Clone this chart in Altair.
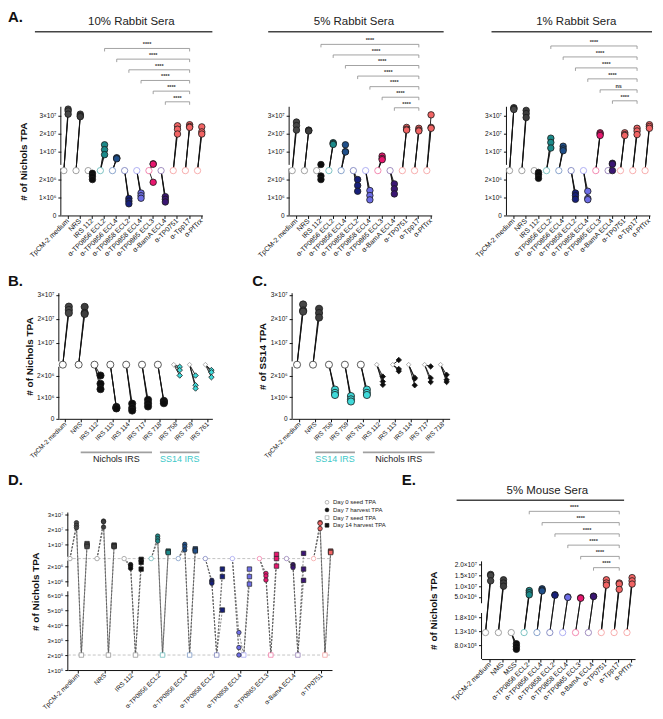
import altair as alt
import pandas as pd

FONT = "Liberation Sans"

# ---------------- Panel A : rabbit sera ----------------
A_CATS = ["TpCM-2 medium", "NRS", "IRS 112", "α-TP0856 ECL2", "α-TP0856 ECL4",
          "α-TP0858 ECL2", "α-TP0858 ECL4", "α-TP0865 ECL3", "α-BamA ECL4",
          "α-TP0751", "α-Tpp17", "α-PfTrx"]
A_SEED = 2.5e6
A10_HARVEST = [[3.37e7, 3.27e7, 3.09e7], [3.09e7, 3.0e7, 2.95e7], [2.35e6, 2.19e6, 2.0e6],
               [1.38e7, 1.11e7, 8.3e6], [6.6e6, 6.2e6, 6.0e6], [9.5e5, 8.0e5, 6.5e5],
               [1.25e6, 1.1e6, 9.6e5], [3.2e6, 3.0e6, 1.85e6], [1.05e6, 9.0e5, 7.5e5],
               [2.44e7, 2.25e7, 1.98e7], [2.5e7, 2.4e7, 2.35e7], [2.38e7, 2.1e7, 1.98e7]]
A5_HARVEST = [[2.65e7, 2.45e7, 2.2e7], [2.2e7, 2.18e7, 2.15e7], [2.8e6, 2.2e6, 2.0e6],
              [1.5e7, 1.45e7, 1.4e7], [1.38e7, 1.0e7, 9.8e6], [2.0e6, 1.67e6, 1.35e6],
              [1.39e6, 1.11e6, 8.7e5], [7.5e6, 6.2e6, 5.5e6], [1.76e6, 1.48e6, 1.2e6],
              [2.35e7, 2.25e7, 2.2e7], [2.3e7, 2.2e7, 2.15e7], [3.05e7, 2.35e7, 2.3e7]]
A1_HARVEST = [[3.45e7, 3.4e7, 3.35e7], [3.3e7, 3.12e7, 2.9e7], [2.4e6, 2.27e6, 2.07e6],
              [1.75e7, 1.51e7, 1.2e7], [1.3e7, 1.15e7, 1.05e7], [1.25e6, 1.1e6, 9.0e5],
              [1.35e6, 9.5e5, 8.8e5], [2.05e7, 1.98e7, 1.9e7], [3.5e6, 3.0e6, 2.5e6],
              [2.05e7, 1.95e7, 1.9e7], [2.3e7, 2.15e7, 1.95e7], [2.5e7, 2.4e7, 2.3e7]]
A10_BR_START = [3, 4, 5, 6, 7, 8]
A10_BR_LABEL = ["****", "****", "****", "****", "****", "****"]
A5_BR_START = [2, 3, 4, 5, 6, 7, 8]
A5_BR_LABEL = ["****", "****", "****", "****", "****", "****", "****"]
A1_BR_START = [3, 4, 5, 6, 7, 8]
A1_BR_LABEL = ["****", "****", "****", "****", "ns", "****"]
A_BR_END = 10
A_TITLES = ["10% Rabbit Sera", "5% Rabbit Sera", "1% Rabbit Sera"]
A_YTICKS = [0, 1e6, 2e6, 1e7, 2e7, 3e7]
A_YLABELS = ["0", "1×10⁶", "2×10⁶", "1×10⁷", "2×10⁷", "3×10⁷"]

# ---------------- Panel B / C : IRS ----------------
B_CATS = ["TpCM-2 medium", "NRS", "IRS 112", "IRS 113", "IRS 114", "IRS 717", "IRS 718",
          "IRS 758", "IRS 759", "IRS 761"]
B_SEED = 2.5e6
B_HARVEST = [[2.51e7, 2.37e7, 2.24e7], [2.5e7, 2.25e7, 2.2e7], [2.0e6, 1.62e6, 1.37e6],
             [5.5e5, 5.0e5, 4.8e5], [7.0e5, 5.0e5, 3.8e5], [8.8e5, 7.2e5, 5.7e5],
             [8.3e5, 7.8e5, 7.2e5], [2.4e6, 2.25e6, 2.0e6], [2.0e6, 1.55e6, 1.4e6],
             [2.25e6, 2.15e6, 1.92e6]]
B_GROUPS = ["Nichols IRS", "SS14 IRS"]
B_GROUP_FIRST = [2, 7]
B_GROUP_LAST = [6, 9]

C_CATS = ["TpCM-2 medium", "NRS", "IRS 758", "IRS 759", "IRS 761", "IRS 112", "IRS 113",
          "IRS 114", "IRS 717", "IRS 718"]
C_SEED = 2.5e6
C_HARVEST = [[2.6e7, 2.35e7, 2.3e7], [2.42e7, 2.24e7, 2.05e7], [1.35e6, 1.2e6, 1.1e6],
             [1.05e6, 9.0e5, 8.0e5], [1.35e6, 1.2e6, 1.1e6], [1.95e6, 1.72e6, 1.57e6],
             [2.7e6, 2.3e6, 2.2e6], [1.9e6, 1.85e6, 1.55e6], [2.42e6, 1.88e6, 1.7e6],
             [2.03e6, 1.8e6, 1.7e6]]
C_GROUPS = ["SS14 IRS", "Nichols IRS"]
C_GROUP_FIRST = [2, 5]
C_GROUP_LAST = [4, 9]

# ---------------- Panel D : two passages ----------------
D_CATS = ["TpCM-2 medium", "NRS", "IRS 112", "α-TP0856 ECL2", "α-TP0856 ECL4",
          "α-TP0858 ECL2", "α-TP0858 ECL4", "α-TP0865 ECL3", "α-BamA ECL4", "α-TP0751"]
D_SEED0 = 2.5e6
D_SEED7 = 2e5
D_H7 = [[2.44e7, 2.26e7, 2.11e7], [2.55e7, 2.5e7, 2.15e7], [2.1e6, 2.0e6, 1.85e6],
        [1.55e7, 1.38e7, 1.22e7], [1.0e7, 8.4e6, 6.2e6], [1.05e6, 9.5e5, 8.5e5],
        [3.5e5, 2.5e5, 2.0e5], [1.51e6, 1.34e6, 1.07e6], [2.1e6, 2.0e6, 1.9e6],
        [2.45e7, 2.4e7, 2.05e7]]
D_H14 = [[1.05e7, 9.5e6, 8.5e6], [9.5e6, 9.0e6, 8.5e6], [2.45e6, 2.25e6, 1.8e6],
         [5.5e6, 5.0e6, 4.5e6], [7.0e6, 6.2e6, 5.6e6], [1.8e6, 1.3e6, 5.0e5],
         [1.8e6, 1.3e6, 8.0e5], [3.3e6, 2.5e6, 2.0e6], [4.0e6, 1.8e6, 1.05e6],
         [5.5e6, 5.0e6, 4.5e6]]
D_LEGEND = ["Day 0 seed TPA", "Day 7 harvest TPA", "Day 7 seed TPA", "Day 14 harvest TPA"]
D_YTICKS = [1e5, 2e5, 3e5, 4e5, 5e5, 6e5, 1e6, 2e6, 1e7, 2e7, 3e7]
D_YLABELS = ["1×10⁵", "2×10⁵", "3×10⁵", "4×10⁵", "5×10⁵", "6×10⁵", "1×10⁶", "2×10⁶",
             "1×10⁷", "2×10⁷", "3×10⁷"]

# ---------------- Panel E : mouse sera ----------------
E_CATS = ["TpCM-2 medium", "NMS", "MSS", "α-TP0856 ECL2", "α-TP0856 ECL4", "α-TP0858 ECL2",
          "α-TP0858 ECL4", "α-TP0865 ECL3", "α-BamA ECL4", "α-TP0751", "α-Tpp17", "α-PfTrx"]
E_SEED = 1.25e6
E_HARVEST = [[1.55e7, 1.5e7, 1.25e7], [1.3e7, 1.15e7, 1.0e7], [8.5e5, 7.5e5, 6.5e5],
             [8.0e6, 7.0e6, 6.0e6], [8.8e6, 8.2e6, 7.8e6], [6.0e6, 5.8e6],
             [5.0e6, 4.8e6], [4.6e6, 4.4e6], [5.4e6, 5.2e6],
             [1.3e7, 1.15e7, 1.05e7], [1.15e7, 1.1e7, 8.5e6], [1.4e7, 1.25e7, 1.1e7]]
E_BR_START = [3, 4, 5, 6, 7, 8]
E_BR_LABEL = ["****", "****", "****", "****", "****", "****"]
E_BR_END = 10
E_TITLE = "5% Mouse Sera"
E_YTICKS = [8e5, 1.3e6, 1.8e6, 5e6, 1e7, 1.5e7, 2e7]
E_YLABELS = ["8.0×10⁵", "1.3×10⁶", "1.8×10⁶", "5.0×10⁶", "1.0×10⁷", "1.5×10⁷", "2.0×10⁷"]

# ---------------- styles ----------------
RAB_COLORS = ["#474747", "#3d3d3d", "#0d0d0d", "#1b8a8a", "#1f4f8a", "#17207a", "#6e6ee6",
              "#e8176f", "#3b1673", "#f26464", "#f26464", "#f26464"]
RAB_SEED = ["#8a8a8a", "#8a8a8a", "#8a8a8a", "#5fb5b5", "#6f8fc0", "#6f76b8", "#9d9df0",
            "#f06fa0", "#8a72b0", "#f59a9a", "#f59a9a", "#f59a9a"]
CYAN = "#3fd9d9"
B_COLORS = ["#474747", "#3d3d3d"] + ["#0d0d0d"] * 5 + [CYAN] * 3
B_SEEDC = ["#333333"] * 7 + ["#999999"] * 3
B_SSHAPE = ["circle"] * 7 + ["diamond"] * 3
B_HSHAPE = ["circle"] * 7 + ["diamond"] * 3
C_COLORS = ["#474747", "#3d3d3d"] + [CYAN] * 3 + ["#0d0d0d"] * 5
C_SEEDC = ["#333333"] * 5 + ["#999999"] * 5
C_SSHAPE = ["circle"] * 5 + ["diamond"] * 5
C_HSHAPE = ["circle"] * 5 + ["diamond"] * 5
GROUP_COLORS = {"Nichols IRS": "#222222", "SS14 IRS": "#3cc8c8"}


# ---------------- broken-axis display transforms ----------------
def map_a(v):
    return v / 1e6 if v <= 2.6e6 else 2.56 + v / 1e7


def map_bc(v):
    return v / 1e6 if v <= 2.6e6 else 2.42 + 1.1 * v / 1e7


def map_d(v):
    if v <= 6.5e5:
        return v / 1e5
    if v <= 2.6e6:
        return 5.93 + v / 1e6
    return 8.38 + v / 1e7


def map_e(v):
    return (v - 8e5) / 5e5 + 1 if v <= 2e6 else 4.45 + (v - 5e6) / 5e6 * 0.77


def px2d(px, dom, rng):
    return dom[0] + (rng[0] - px) / (rng[0] - rng[1]) * (dom[1] - dom[0])


def num_label_expr(vals, labels):
    expr = "''"
    for v, l in zip(vals, labels):
        expr = f"abs(datum.value - ({v!r})) < 1e-6 ? '{l}' : ({expr})"
    return expr


def idx_label_expr(labels):
    arr = ",".join("'" + s + "'" for s in labels)
    return f"[{arr}][datum.value]"


def x_axis(labels, offset, fs=7):
    kw = dict(values=list(range(len(labels))), labelExpr=idx_label_expr(labels),
              title=None, labelAngle=315, labelAlign="right", labelBaseline="middle",
              labelFontSize=fs, labelFont=FONT, labelColor="#111", labelOverlap=False,
              labelPadding=1, grid=False, domainColor="#111", tickColor="#111",
              tickSize=3, labelFlush=False)
    if offset:
        kw["offset"] = offset
    return alt.Axis(**kw)


def y_axis(fmap, ticks, labels, title, offset, fs=6.5, tpad=4):
    vals = [fmap(t) for t in ticks]
    kw = dict(values=vals, labelExpr=num_label_expr(vals, labels), title=title,
              labelFontSize=fs, labelFont=FONT, labelColor="#111", labelOverlap=False,
              labelPadding=2, grid=False, domain=False, tickColor="#111", tickSize=3,
              titleFont=FONT, titleFontSize=10, titleFontWeight="bold", titlePadding=tpad,
              titleColor="#111", labelFlush=False)
    if offset:
        kw["offset"] = offset
    return alt.Axis(**kw)


def txt(t, x, y, size, weight="normal", align="left", color="#111"):
    return alt.Chart(pd.DataFrame({"t": [t]})).mark_text(
        align=align, baseline="middle", fontSize=size, fontWeight=weight, font=FONT,
        color=color).encode(x=alt.value(x), y=alt.value(y), text="t:N")


def hline(x0, x1, y, color="#444", w=1.4):
    return alt.Chart(pd.DataFrame({"t": [0]})).mark_rule(color=color, strokeWidth=w).encode(
        x=alt.value(x0), x2=alt.value(x1), y=alt.value(y))


def scales(G, xdom, ydom):
    xs = alt.Scale(domain=xdom, range=[G["L"], G["L"] + G["w"]], nice=False, zero=False)
    ys = alt.Scale(domain=ydom, range=[G["T"] + G["h"], G["T"]], nice=False, zero=False)
    return xs, ys


def axis_segments(base, G, segs):
    sdf_rows = [dict(kind="ax", d=a, d2=b) for a, b in segs]
    return sdf_rows


def pair_panel(G, cats, harvest, seed, fmap, ydom, xdom, yticks, ylabels,
               colors, seedc, sshape, hshape, seed_dx, harv_dx, ytitle, ssz, hsz, segs,
               dsz_s=22, dsz_h=30, brackets=None, tpad=4, extra=(), groups=None, xfs=7):
    yr = [G["T"] + G["h"], G["T"]]
    rows = [dict(kind="ax", d=a, d2=b) for a, b in segs]
    for i, c in enumerate(cats):
        sd = fmap(seed)
        rows.append(dict(kind="pt", x=i + seed_dx, d=sd, fill="white", stroke=seedc[i],
                         shape=sshape[i], sz=ssz if sshape[i] == "circle" else dsz_s))
        for r, v in enumerate(harvest[i]):
            hd = fmap(v)
            k = f"{i}_{r}"
            rows.append(dict(kind="line", x=i + seed_dx, d=sd, key=k, o=0))
            rows.append(dict(kind="line", x=i + harv_dx, d=hd, key=k, o=1))
    for i, c in enumerate(cats):
        for r, v in enumerate(harvest[i]):
            rows.append(dict(kind="pt", x=i + harv_dx, d=fmap(v), fill=colors[i],
                             stroke="#1a1a1a", shape=hshape[i],
                             sz=hsz if hshape[i] == "circle" else dsz_h))
    if brackets:
        starts, end, blabels, bottom_px, step = brackets
        n = len(starts)
        for j, s in enumerate(starts):
            px = bottom_px - (n - 1 - j) * step
            d = px2d(px, ydom, yr)
            d2 = px2d(px + 3, ydom, yr)
            dt = px2d(px - 1.2, ydom, yr)
            x0, x1 = s + harv_dx, end + harv_dx
            rows.append(dict(kind="brh", x=x0, x2=x1, d=d))
            rows.append(dict(kind="brv", x=x0, d=d, d2=d2))
            rows.append(dict(kind="brv", x=x1, d=d, d2=d2))
            rows.append(dict(kind="brt", x=(x0 + x1) / 2, d=dt, lab=blabels[j]))
    df = pd.DataFrame(rows)
    xs, ys = scales(G, xdom, ydom)
    xax = x_axis(cats, -(G["H"] - G["T"] - G["h"]), fs=xfs)
    X = alt.X("x:Q", scale=xs, axis=xax)
    Y = alt.Y("d:Q", scale=ys, axis=y_axis(fmap, yticks, ylabels, ytitle, -G["L"], tpad=tpad))
    base = alt.Chart(df).encode(x=X, y=Y)
    layers = [
        base.transform_filter("datum.kind=='ax'").mark_rule(color="#111", strokeWidth=1)
        .encode(x=alt.value(G["L"]), y2="d2:Q"),
        base.transform_filter("datum.kind=='line'").mark_line(color="#111", strokeWidth=0.9)
        .encode(detail="key:N", order=alt.Order("o:Q")),
        base.transform_filter("datum.kind=='pt'").mark_point(filled=True, strokeWidth=0.8, opacity=1)
        .encode(fill=alt.Fill("fill:N", scale=None), stroke=alt.Stroke("stroke:N", scale=None),
                shape=alt.Shape("shape:N", scale=None), size=alt.Size("sz:Q", scale=None)),
    ]
    if brackets:
        layers += [
            base.transform_filter("datum.kind=='brh'").mark_rule(color="#8c8c8c", strokeWidth=0.8)
            .encode(x2="x2:Q"),
            base.transform_filter("datum.kind=='brv'").mark_rule(color="#8c8c8c", strokeWidth=0.8)
            .encode(y2="d2:Q"),
            base.transform_filter("datum.kind=='brt'").mark_text(
                fontSize=5.5, fontWeight="bold", font=FONT, baseline="bottom", color="#333")
            .encode(text="lab:N"),
        ]
    if groups:
        gnames, gfirst, glast, y_line, y_text = groups
        gdf = pd.DataFrame({"g": gnames, "f": gfirst, "l": glast})
        gdf["x0"] = gdf["f"] - 1.0
        gdf["x1"] = gdf["l"] - 0.5
        gdf["xm"] = (gdf["x0"] + gdf["x1"]) / 2
        gdf["c"] = [GROUP_COLORS[g] for g in gnames]
        layers += [
            alt.Chart(gdf).mark_rule(color="#a0a0a0", strokeWidth=1.8).encode(
                x=alt.X("x0:Q", scale=xs, axis=xax), x2="x1:Q", y=alt.value(y_line)),
            alt.Chart(gdf).mark_text(fontSize=9, font=FONT, baseline="middle").encode(
                x=alt.X("xm:Q", scale=xs, axis=xax), y=alt.value(y_text), text="g:N",
                color=alt.Color("c:N", scale=None)),
        ]
    layers += list(extra)
    return alt.layer(*layers).properties(width=G["W"], height=G["H"])


# ---------------- panel A ----------------
A_YDOM = [0, 6.06]
A_XDOM = [-0.55, 11.1]
A_SEGS = [(0, 2.62), (2.82, 6.06)]


def panel_a(G, harvest, title, starts, blabels, bottom, step, ytitle, tx, ux0, ux1, letter):
    extra = [txt(title, tx, 12.7, 11.5, align="center", color="#222"),
             hline(ux0, ux1, 22.7)]
    if letter:
        extra.append(txt("A.", 0, 8, 15, weight="bold"))
    return pair_panel(G, A_CATS, harvest, A_SEED, map_a, A_YDOM, A_XDOM,
                      A_YTICKS, A_YLABELS, RAB_COLORS, RAB_SEED, ["circle"] * 12,
                      ["circle"] * 12, -0.3, 0.05, ytitle, 40, 42, A_SEGS,
                      brackets=(starts, A_BR_END, blabels, bottom, step), tpad=10,
                      extra=extra)


GA1 = dict(W=242, H=264, L=53, T=98, w=142, h=109)
GA2 = dict(W=218, H=264, L=40, T=98, w=143, h=109)
GA3 = dict(W=187, H=264, L=40, T=98, w=144, h=109)
pA1 = panel_a(GA1, A10_HARVEST, A_TITLES[0], A10_BR_START, A10_BR_LABEL, 93, 10.7,
              "# of Nichols TPA", 123.7, 27, 205, True)
pA2 = panel_a(GA2, A5_HARVEST, A_TITLES[1], A5_BR_START, A5_BR_LABEL, 99, 10.6,
              None, 105, 19, 195, False)
pA3 = panel_a(GA3, A1_HARVEST, A_TITLES[2], A1_BR_START, A1_BR_LABEL, 92, 11,
              None, 110, 25, 186, False)

# ---------------- panels B and C ----------------
BC_YDOM = [0, 5.8]
BC_SEGS = [(0, 2.4), (2.65, 5.8)]
GB = dict(W=242, H=198, L=51, T=21, w=154, h=126)
GC = dict(W=405, H=198, L=43, T=21, w=158, h=126)
pB = pair_panel(GB, B_CATS, B_HARVEST, B_SEED, map_bc, BC_YDOM, [-0.38, 9.31],
                A_YTICKS, A_YLABELS, B_COLORS, B_SEEDC, B_SSHAPE, B_HSHAPE, -0.13, 0.25,
                "# of Nichols TPA", 50, 52, BC_SEGS, tpad=2, xfs=6.5,
                extra=[txt("B.", 0, 9, 15, weight="bold")],
                groups=(B_GROUPS, B_GROUP_FIRST, B_GROUP_LAST, 180.7, 187))
pC = pair_panel(GC, C_CATS, C_HARVEST, C_SEED, map_bc, BC_YDOM, [-0.44, 9.44],
                A_YTICKS, A_YLABELS, C_COLORS, C_SEEDC, C_SSHAPE, C_HSHAPE, -0.13, 0.25,
                "# of SS14 TPA", 50, 52, BC_SEGS, tpad=2, xfs=6.5,
                extra=[txt("C.", 3, 9, 15, weight="bold")],
                groups=(C_GROUPS, C_GROUP_FIRST, C_GROUP_LAST, 180.7, 187))

# ---------------- panel D ----------------
GD = dict(W=392, H=241, L=60, T=43, w=265, h=158)
D_YDOM = [1, 11.5]
D_XDOM = [-0.36, 9.4]
D_OFF = [-0.28, -0.04, 0.14, 0.35]
D_SEGS = [(1, 6.25), (6.55, 8.3), (8.55, 11.5)]
drows = [dict(kind="ax", d=a, d2=b) for a, b in D_SEGS]
for v in (D_SEED0, D_SEED7):
    drows.append(dict(kind="ref", d=map_d(v)))
for i, c in enumerate(D_CATS):
    for r in range(3):
        seq = [D_SEED0, D_H7[i][r], D_SEED7, D_H14[i][r]]
        for s, v in enumerate(seq):
            drows.append(dict(kind="line", x=i + D_OFF[s], d=map_d(v), key=f"{i}_{r}", o=s))
for i, c in enumerate(D_CATS):
    drows.append(dict(kind="pt", x=i + D_OFF[0], d=map_d(D_SEED0), fill="white",
                      stroke=RAB_SEED[i], shape="circle"))
    drows.append(dict(kind="pt", x=i + D_OFF[2], d=map_d(D_SEED7), fill="white",
                      stroke=RAB_SEED[i], shape="square"))
    for r in range(3):
        drows.append(dict(kind="pt", x=i + D_OFF[1], d=map_d(D_H7[i][r]), fill=RAB_COLORS[i],
                          stroke="#222", shape="circle"))
        drows.append(dict(kind="pt", x=i + D_OFF[3], d=map_d(D_H14[i][r]), fill=RAB_COLORS[i],
                          stroke="#222", shape="square"))
LEG_FILL = ["white", "#111", "white", "#111"]
LEG_STROKE = ["#999", "#111", "#999", "#111"]
LEG_SHAPE = ["circle", "circle", "square", "square"]
D_YR = [GD["T"] + GD["h"], GD["T"]]
for j, lab in enumerate(D_LEGEND):
    dd = px2d(32.7 + j * 7.7, D_YDOM, D_YR)
    drows.append(dict(kind="leg", d=dd, lab=lab, fill=LEG_FILL[j], stroke=LEG_STROKE[j],
                      shape=LEG_SHAPE[j]))
ddf = pd.DataFrame(drows)
dxs, dys = scales(GD, D_XDOM, D_YDOM)
DX = alt.X("x:Q", scale=dxs, axis=x_axis(D_CATS, -(GD["H"] - GD["T"] - GD["h"]), fs=6.5))
DY = alt.Y("d:Q", scale=dys,
           axis=y_axis(map_d, D_YTICKS, D_YLABELS, "# of Nichols TPA", -GD["L"], fs=6, tpad=6))
dbase = alt.Chart(ddf).encode(x=DX, y=DY)
pD = alt.layer(
    dbase.transform_filter("datum.kind=='ax'").mark_rule(color="#111", strokeWidth=1)
    .encode(x=alt.value(GD["L"]), y2="d2:Q"),
    dbase.transform_filter("datum.kind=='ref'").mark_rule(color="#b5b5b5", strokeWidth=0.8,
                                                          strokeDash=[3, 2])
    .encode(x=alt.value(GD["L"]), x2=alt.value(GD["L"] + GD["w"])),
    dbase.transform_filter("datum.kind=='line'").mark_line(color="#555", strokeWidth=0.7,
                                                           strokeDash=[2, 1.5])
    .encode(detail="key:N", order=alt.Order("o:Q")),
    dbase.transform_filter("datum.kind=='pt'").mark_point(filled=True, strokeWidth=0.7, size=20,
                                                          opacity=1)
    .encode(fill=alt.Fill("fill:N", scale=None), stroke=alt.Stroke("stroke:N", scale=None),
            shape=alt.Shape("shape:N", scale=None)),
    dbase.transform_filter("datum.kind=='leg'").mark_point(filled=True, strokeWidth=0.7, size=14,
                                                           opacity=1)
    .encode(x=alt.value(320), fill=alt.Fill("fill:N", scale=None),
            stroke=alt.Stroke("stroke:N", scale=None), shape=alt.Shape("shape:N", scale=None)),
    dbase.transform_filter("datum.kind=='leg'").mark_text(fontSize=6, font=FONT, align="left",
                                                          baseline="middle", color="#222")
    .encode(x=alt.value(326), text="lab:N"),
    txt("D.", 0, 10, 15, weight="bold"),
).properties(width=GD["W"], height=GD["H"])

# ---------------- panel E ----------------
GE = dict(W=255, H=241, L=83, T=92, w=154, h=98)
pE = pair_panel(GE, E_CATS, E_HARVEST, E_SEED, map_e, [0, 7.0], [-0.61, 11.33],
                E_YTICKS, E_YLABELS, RAB_COLORS, RAB_SEED, ["circle"] * 12, ["circle"] * 12,
                -0.3, 0.1, "# of Nichols TPA", 40, 42, [(0, 3.3), (4.0, 7.0)],
                brackets=(E_BR_START, E_BR_END, E_BR_LABEL, 98.3, 11.3), tpad=15,
                extra=[txt(E_TITLE, 149, 21.7, 11.5, align="center", color="#222"),
                       hline(58, 226, 30.7),
                       txt("E.", 3, 10, 15, weight="bold")])

rowA = alt.hconcat(pA1, pA2, pA3, spacing=0)
rowBC = alt.hconcat(pB, pC, spacing=0)
rowDE = alt.hconcat(pD, pE, spacing=0)
chart = alt.vconcat(rowA, rowBC, rowDE, spacing=0).properties(
    padding={"left": 0, "top": 0, "right": 0, "bottom": 0}
).configure(font=FONT).configure_view(stroke=None)

chart.save("out.html", embed_options={"renderer": "svg", "actions": False})
